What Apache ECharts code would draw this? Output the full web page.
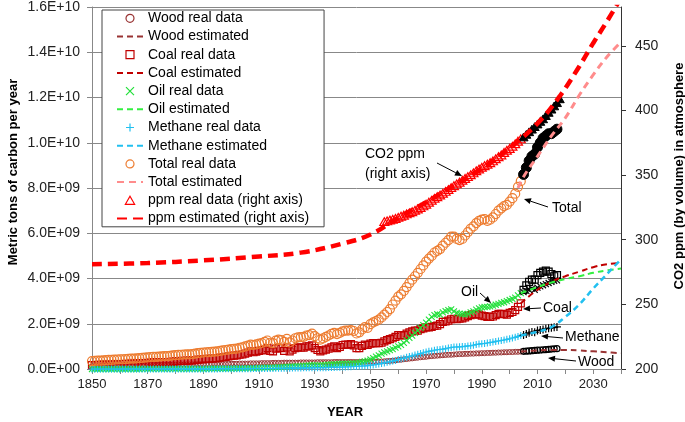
<!DOCTYPE html>
<html><head><meta charset="utf-8">
<script src="https://cdn.jsdelivr.net/npm/echarts@6/dist/echarts.min.js"></script>
<style>html,body{margin:0;padding:0;background:#fff}#c{width:685px;height:422px}</style>
</head><body><div id="c"></div>
<script>
// ---------- DATA (GtC for fuels, ppm for CO2) ----------
// real data, one value per year, 1850..2004
const realYears = [];
for (let y = 1850; y <= 2004; y++) realYears.push(y);
const woodReal = [
  0.12,0.12,0.12,0.13,0.13,0.13,0.13,0.14,0.14,0.14,
  0.14,0.15,0.15,0.15,0.15,0.16,0.16,0.16,0.16,0.17,
  0.17,0.17,0.17,0.18,0.18,0.18,0.18,0.19,0.19,0.19,
  0.19,0.20,0.20,0.20,0.20,0.20,0.20,0.21,0.21,0.21,
  0.21,0.21,0.21,0.22,0.22,0.22,0.22,0.22,0.22,0.23,
  0.23,0.23,0.23,0.24,0.24,0.24,0.24,0.25,0.25,0.25,
  0.25,0.26,0.26,0.26,0.26,0.27,0.27,0.27,0.27,0.28,
  0.28,0.28,0.28,0.28,0.28,0.29,0.29,0.29,0.29,0.29,
  0.29,0.30,0.30,0.30,0.30,0.30,0.30,0.31,0.31,0.31,
  0.31,0.31,0.31,0.31,0.31,0.31,0.31,0.32,0.32,0.32,
  0.32,0.32,0.32,0.33,0.33,0.34,0.35,0.36,0.37,0.38,
  0.40,0.41,0.43,0.44,0.46,0.47,0.49,0.50,0.52,0.53,
  0.54,0.56,0.57,0.58,0.59,0.60,0.61,0.62,0.63,0.63,
  0.64,0.65,0.66,0.66,0.67,0.67,0.68,0.68,0.69,0.69,
  0.70,0.70,0.71,0.71,0.72,0.72,0.73,0.73,0.74,0.74,
  0.75,0.75,0.76,0.76,0.77];
const coalReal = [
  0.17,0.17,0.18,0.18,0.19,0.19,0.20,0.20,0.21,0.21,
  0.22,0.22,0.23,0.23,0.24,0.24,0.25,0.25,0.26,0.26,
  0.27,0.28,0.29,0.29,0.30,0.30,0.31,0.31,0.32,0.33,
  0.34,0.35,0.36,0.36,0.37,0.37,0.38,0.39,0.41,0.42,
  0.44,0.45,0.45,0.46,0.47,0.48,0.50,0.52,0.54,0.56,
  0.58,0.59,0.60,0.63,0.64,0.68,0.72,0.78,0.74,0.77,
  0.80,0.82,0.86,0.92,0.80,0.78,0.90,0.94,0.92,0.80,
  0.95,0.78,0.86,0.92,0.96,0.95,0.94,1.00,1.00,1.04,
  0.92,0.84,0.78,0.82,0.86,0.90,0.96,1.00,0.92,0.98,
  1.06,1.08,1.08,1.10,1.04,0.92,0.92,1.02,1.08,1.06,
  1.12,1.14,1.14,1.14,1.16,1.22,1.28,1.32,1.36,1.42,
  1.50,1.48,1.50,1.56,1.62,1.66,1.70,1.70,1.76,1.80,
  1.84,1.84,1.86,1.90,1.92,1.98,2.08,2.10,2.14,2.20,
  2.22,2.20,2.22,2.24,2.28,2.34,2.38,2.42,2.42,2.40,
  2.36,2.34,2.30,2.30,2.32,2.38,2.44,2.44,2.42,2.40,
  2.48,2.52,2.60,2.75,2.90];
const oilReal = [
  0.00,0.00,0.00,0.00,0.00,0.00,0.00,0.00,0.00,0.00,
  0.00,0.00,0.00,0.00,0.00,0.00,0.00,0.00,0.01,0.01,
  0.01,0.01,0.01,0.01,0.01,0.01,0.01,0.01,0.01,0.01,
  0.01,0.01,0.01,0.01,0.01,0.01,0.01,0.01,0.01,0.01,
  0.01,0.01,0.02,0.02,0.02,0.02,0.02,0.02,0.02,0.02,
  0.02,0.02,0.03,0.03,0.03,0.03,0.04,0.04,0.04,0.04,
  0.05,0.05,0.06,0.06,0.06,0.06,0.07,0.08,0.08,0.09,
  0.10,0.10,0.11,0.12,0.13,0.13,0.14,0.15,0.16,0.17,
  0.17,0.16,0.16,0.17,0.18,0.19,0.20,0.21,0.22,0.23,
  0.24,0.23,0.23,0.24,0.25,0.26,0.28,0.31,0.34,0.37,
  0.42,0.48,0.55,0.60,0.68,0.73,0.78,0.83,0.88,0.94,
  1.00,1.07,1.15,1.26,1.38,1.48,1.60,1.70,1.82,1.94,
  2.05,2.18,2.30,2.38,2.42,2.40,2.50,2.56,2.60,2.64,
  2.55,2.48,2.45,2.42,2.42,2.44,2.50,2.55,2.62,2.68,
  2.72,2.74,2.75,2.77,2.80,2.84,2.88,2.92,2.95,3.00,
  3.05,3.10,3.15,3.25,3.35];
const methaneReal = [
  0.00,0.00,0.00,0.00,0.00,0.00,0.00,0.00,0.00,0.00,
  0.00,0.00,0.00,0.00,0.00,0.00,0.00,0.00,0.00,0.00,
  0.00,0.00,0.00,0.00,0.00,0.00,0.00,0.00,0.00,0.00,
  0.00,0.00,0.00,0.00,0.00,0.00,0.00,0.00,0.00,0.00,
  0.00,0.00,0.00,0.00,0.00,0.00,0.01,0.01,0.01,0.01,
  0.01,0.01,0.01,0.01,0.01,0.01,0.01,0.01,0.02,0.02,
  0.02,0.02,0.02,0.02,0.02,0.02,0.03,0.03,0.03,0.03,
  0.03,0.03,0.04,0.04,0.04,0.04,0.05,0.05,0.05,0.05,
  0.06,0.06,0.06,0.06,0.06,0.07,0.07,0.07,0.08,0.08,
  0.09,0.09,0.10,0.10,0.11,0.11,0.12,0.13,0.14,0.15,
  0.17,0.18,0.20,0.22,0.24,0.27,0.30,0.32,0.35,0.38,
  0.42,0.45,0.48,0.52,0.55,0.58,0.62,0.65,0.68,0.72,
  0.75,0.78,0.80,0.83,0.85,0.86,0.88,0.90,0.93,0.95,
  0.97,0.97,0.98,0.99,1.00,1.02,1.03,1.05,1.08,1.10,
  1.12,1.13,1.15,1.17,1.19,1.22,1.24,1.26,1.28,1.31,
  1.34,1.37,1.40,1.44,1.48];
const totalReal = [
  0.35,0.36,0.37,0.37,0.38,0.39,0.40,0.40,0.41,0.42,
  0.43,0.43,0.44,0.45,0.46,0.46,0.47,0.48,0.49,0.50,
  0.51,0.53,0.54,0.54,0.55,0.56,0.57,0.57,0.58,0.60,
  0.61,0.62,0.63,0.64,0.65,0.65,0.66,0.68,0.70,0.71,
  0.73,0.74,0.75,0.76,0.77,0.78,0.80,0.82,0.84,0.86,
  0.88,0.89,0.90,0.94,0.96,1.00,1.03,1.08,1.06,1.09,
  1.12,1.15,1.20,1.26,1.16,1.14,1.25,1.30,1.28,1.20,
  1.33,1.18,1.26,1.36,1.40,1.41,1.42,1.48,1.50,1.56,
  1.45,1.36,1.30,1.35,1.42,1.48,1.55,1.60,1.54,1.60,
  1.66,1.70,1.70,1.72,1.68,1.57,1.62,1.75,1.85,1.82,
  1.98,2.06,2.12,2.18,2.28,2.40,2.52,2.65,2.85,3.02,
  3.20,3.30,3.45,3.62,3.80,3.95,4.10,4.25,4.42,4.58,
  4.75,4.88,5.00,5.15,5.22,5.30,5.45,5.58,5.70,5.85,
  5.85,5.75,5.70,5.75,5.90,6.05,6.20,6.30,6.45,6.55,
  6.60,6.62,6.55,6.60,6.70,6.85,7.00,7.10,7.20,7.25,
  7.40,7.55,7.75,8.05,8.30];
const ppmRealYears = [];
for (let y = 1955; y <= 2004; y++) ppmRealYears.push(y);
const ppmReal = [
  314.0,314.6,315.2,315.8,316.5,317.3,318.2,319.0,320.0,320.8,
  321.7,322.8,323.8,324.9,326.2,327.5,329.0,330.5,332.0,333.3,
  334.6,335.9,337.4,338.8,340.3,341.8,343.2,344.5,346.0,347.4,
  348.8,350.2,351.7,353.3,354.7,356.0,357.3,358.4,359.6,361.0,
  362.6,364.2,365.6,367.5,369.2,370.6,372.3,374.2,376.2,378.0];

// recent data (black markers) 2005..2017
const recentYears = [2005,2006,2007,2008,2009,2010,2011,2012,2013,2014,2015,2016,2017];
const woodRecent    = [0.78,0.79,0.80,0.81,0.82,0.83,0.84,0.85,0.86,0.87,0.88,0.89,0.90];
const coalRecent    = [3.50,3.70,3.85,3.95,3.95,4.15,4.25,4.30,4.35,4.30,4.20,4.10,4.15];
const oilRecent     = [3.40,3.45,3.50,3.55,3.50,3.60,3.65,3.70,3.75,3.80,3.85,3.90,3.92];
const methaneRecent = [1.50,1.55,1.60,1.63,1.62,1.70,1.72,1.75,1.78,1.80,1.82,1.84,1.86];
const totalRecent   = [8.6,8.9,9.2,9.4,9.5,9.8,10.0,10.2,10.3,10.4,10.4,10.5,10.6];
const ppmRecentYears = [2005,2006,2007,2008,2009,2010,2011,2012,2013,2014,2015,2016,2017,2018];
const ppmRecent = [379.5,381.5,383.5,385.5,387.5,389.5,391.5,393.5,396,398.5,401,403.5,406,409];

// estimated curves
const estYears   = [2004,2010,2015,2020,2025,2030,2035,2040];
const woodEst    = [0.77,0.82,0.84,0.84,0.82,0.78,0.74,0.70];
const coalEst    = [2.90,3.50,3.85,4.10,4.30,4.50,4.63,4.68];
const oilEst     = [3.35,3.62,3.82,3.98,4.10,4.25,4.36,4.44];
const methaneEst = [1.48,1.65,1.85,2.30,2.85,3.55,4.20,4.85];
const totalEstYears = [2003,2005,2010,2015,2020,2025,2030,2035,2040];
const totalEst      = [8.0,8.5,9.4,10.3,11.1,12.1,13.0,13.8,14.45];
const ppmEstYears = [1850,1870,1890,1910,1925,1940,1950,1960,1970,1980,1990,2000,2010,2018,2025,2030,2035,2040];
const ppmEst      = [281,282,284,287,290,297,304,317,329,342,355,371,390,411,434,452,469,487];

// axis ticks
const xMin = 1850, xMax = 2040, xTick = 10, xLabelEvery = 20;
const yLeftMin = 0, yLeftMax = 16, yLeftTick = 2;
const yRightMin = 200, yRightMax = 480, yRightTick = 50;

// ---------- CHART ----------
const zip = (xs, vs) => xs.map((x, i) => [x, vs[i]]);
const FONT = 'Liberation Sans, Arial, sans-serif';
const T = 'rgba(0,0,0,0)';
const XSYM = 'path://M0,0L10,10M10,0L0,10';
const PSYM = 'path://M5,0L5,10M0,5L10,5';
const RSYM = 'path://M0,0L10,0L10,10L0,10Z';
const TSYM = 'path://M5,0L10,8.66L0,8.66Z';

function sc(name, data, symbol, size, fill, stroke, bw, yIdx) {
  return {type:'scatter', name, data, symbol, symbolSize:size, symbolKeepAspect:true, yAxisIndex:yIdx||0,
    itemStyle:{color:fill, borderColor:stroke, borderWidth:bw, opacity:1}, silent:true};
}
function ln(name, data, color, width, dash, yIdx) {
  return {type:'line', name, data, yAxisIndex:yIdx||0, smooth:0.4, symbol:'none', showSymbol:false,
    lineStyle:{color, width, type:dash, cap:'butt'}, itemStyle:{color}, silent:true};
}

const cWood='#993333', cCoal='#C00000', cOil='#22E03A', cMeth='#22C0F0', cTot='#ED7D31', cTotE='#FF8C8C', cPpm='#FF0000';

const series = [
  sc('Wood real data', zip(realYears, woodReal), 'circle', 5, T, cWood, 1),
  ln('Wood estimated', zip(estYears, woodEst), cWood, 2, [6,4]),
  sc('Coal real data', zip(realYears, coalReal), RSYM, 7, T, cCoal, 1.2),
  ln('Coal estimated', zip(estYears, coalEst), cCoal, 2, [6,4]),
  sc('Oil real data', zip(realYears, oilReal), XSYM, 6, T, cOil, 1.1),
  ln('Oil estimated', zip(estYears, oilEst), '#33F040', 2, [6,4]),
  sc('Methane real data', zip(realYears, methaneReal), PSYM, 7, T, cMeth, 1.1),
  ln('Methane estimated', zip(estYears, methaneEst), cMeth, 2.5, [6,4]),
  sc('Total real data', zip(realYears, totalReal), 'circle', 9, T, cTot, 1.2),
  ln('Total estimated', zip(totalEstYears, totalEst), cTotE, 3, [7,5]),
  sc('ppm real data (right axis)', zip(ppmRealYears, ppmReal), TSYM, 9, T, cPpm, 1.2, 1),
  ln('ppm estimated (right axis)', zip(ppmEstYears, ppmEst), cPpm, 4.5, [10,6], 1),
  // recent data in black (not in legend)
  sc('woodRecent', zip(recentYears, woodRecent), 'circle', 6, T, '#000', 1.2),
  sc('coalRecent', zip(recentYears, coalRecent), RSYM, 7, T, '#000', 1.2),
  sc('oilRecent', zip(recentYears, oilRecent), XSYM, 6, T, '#000', 1.2),
  sc('methaneRecent', zip(recentYears, methaneRecent), PSYM, 8, T, '#000', 1.2),
  sc('totalRecent', zip(recentYears, totalRecent), 'circle', 10, '#000', '#000', 1),
  sc('ppmRecent', zip(ppmRecentYears, ppmRecent), TSYM, 9, '#000', '#000', 1, 1)
];

const legendNames = ['Wood real data','Wood estimated','Coal real data','Coal estimated',
  'Oil real data','Oil estimated','Methane real data','Methane estimated',
  'Total real data','Total estimated','ppm real data (right axis)','ppm estimated (right axis)'];
const legendIconSize = {'Wood real data':5, 'Coal real data':6, 'Oil real data':6, 'Methane real data':7, 'Total real data':8, 'ppm real data (right axis)':9};
const legendData = legendNames.map(n => n.indexOf('estimated') >= 0 ? {name:n, itemStyle:{opacity:0}} : {name:n, itemStyle:{borderWidth:1.2}});

function arrow(x1, y1, x2, y2) {
  const a = Math.atan2(y2 - y1, x2 - x1), L = 7, W = 3;
  const bx = x2 - L * Math.cos(a), by = y2 - L * Math.sin(a);
  return [
    {type:'line', shape:{x1, y1, x2:bx, y2:by}, style:{stroke:'#000', lineWidth:1}, z:50},
    {type:'polygon', shape:{points:[[x2,y2],[bx - W*Math.sin(a), by + W*Math.cos(a)],[bx + W*Math.sin(a), by - W*Math.cos(a)]]}, style:{fill:'#000'}, z:50}
  ];
}
function label(text, x, y, size) {
  return {type:'text', x, y, z:50, style:{text, font:(size||14)+'px ' + FONT, fill:'#000', verticalAlign:'middle'}};
}

const chart = echarts.init(document.getElementById('c'), null, {renderer:'canvas'});
chart.setOption({
  animation:false,
  backgroundColor:'#fff',
  textStyle:{fontFamily:FONT},
  grid:{left:92, right:64, top:6, bottom:53, containLabel:false},
  xAxis:{type:'value', min:xMin, max:xMax, interval:xTick,
    axisLine:{show:true, lineStyle:{color:'#888', width:1}},
    axisTick:{show:true, length:5, lineStyle:{color:'#888'}},
    splitLine:{show:false},
    axisLabel:{fontSize:13, color:'#222', margin:9, fontFamily:FONT,
      formatter: v => ((v - xMin) % xLabelEvery === 0 && v < xMax) ? String(v) : ''}},
  yAxis:[
    {type:'value', min:yLeftMin, max:yLeftMax, interval:yLeftTick, position:'left',
      axisLine:{show:true, lineStyle:{color:'#888'}},
      axisTick:{show:true, length:5, lineStyle:{color:'#888'}},
      splitLine:{show:true, lineStyle:{color:'#888', width:1}},
      axisLabel:{fontSize:14, color:'#222', margin:12, fontFamily:FONT,
        formatter: v => (v * 1e9).toExponential(1).toUpperCase().replace(/E([+-])(\d)$/, 'E$10$2')}},
    {type:'value', min:yRightMin, max:yRightMax, interval:yRightTick, position:'right',
      axisLine:{show:true, lineStyle:{color:'#333'}},
      axisTick:{show:true, length:5, lineStyle:{color:'#333'}},
      splitLine:{show:false},
      axisLabel:{fontSize:14, color:'#222', margin:14, fontFamily:FONT, showMaxLabel:false}}
  ],
  legend:{
    data: legendData, selectedMode:false, orient:'vertical', left:102, top:10,
    itemWidth:26, itemHeight:8, itemGap:4.2,
    padding:[1.3, 15, 1.3, 14],
    backgroundColor:'#fff', borderColor:'#444', borderWidth:1,
    textStyle:{fontSize:14, color:'#000', fontFamily:FONT, lineHeight:14}
  },
  graphic:[
    {type:'text', x:13, y:172, rotation:Math.PI/2, z:50,
      style:{text:'Metric tons of carbon per year', font:'bold 13px ' + FONT, fill:'#000', align:'center', verticalAlign:'middle'}},
    {type:'text', x:679, y:176, rotation:Math.PI/2, z:50,
      style:{text:'CO2 ppm (by volume) in atmosphere', font:'bold 13px ' + FONT, fill:'#000', align:'center', verticalAlign:'middle'}},
    {type:'text', x:345, y:412, z:50,
      style:{text:'YEAR', font:'bold 13px ' + FONT, fill:'#000', align:'center', verticalAlign:'middle'}},
    label('CO2 ppm', 365, 154),
    label('(right axis)', 365, 174),
    ...arrow(437, 163, 462, 176),
    label('Total', 552, 208),
    ...arrow(548, 207, 524, 199),
    label('Oil', 461, 292),
    ...arrow(480, 293, 491, 303),
    label('Coal', 543, 308),
    ...arrow(541, 308, 523, 309),
    label('Methane', 565, 337),
    ...arrow(563, 338, 541, 336),
    label('Wood', 578, 362),
    ...arrow(576, 361, 548, 358)
  ],
  series
});
</script>
</body></html>
